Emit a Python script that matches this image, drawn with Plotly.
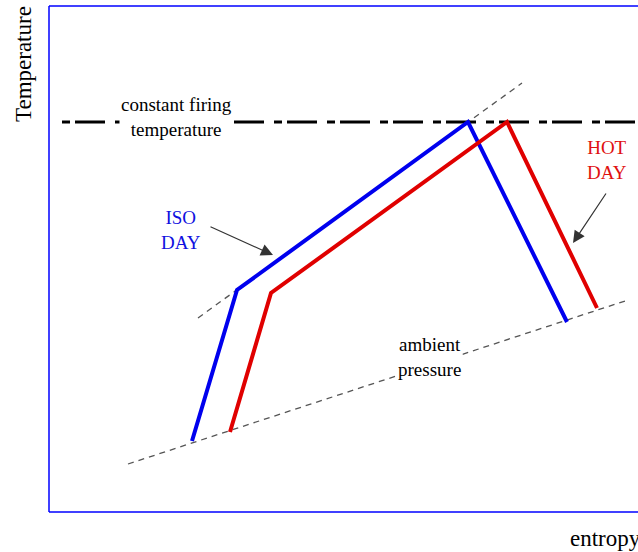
import plotly.graph_objects as go

# Gas-turbine cycle sketch on a temperature-entropy diagram (arbitrary units)
iso_entropy = [143, 188, 419, 518]
iso_temp = [71, 222, 390, 190]

hot_entropy = [181, 222, 458, 548]
hot_temp = [80, 219, 390, 204]

firing_entropy = [13, 600]
firing_temp = [390, 390]

ambient_entropy = [79, 576]
ambient_temp = [48, 211]

compression_entropy = [149, 473]
compression_temp = [194, 429]

S_MAX = 589
T_MAX = 506

SERIF = "Liberation Serif, Times New Roman, serif"

fig = go.Figure()

# guide lines
fig.add_trace(go.Scatter(x=ambient_entropy, y=ambient_temp, mode="lines",
                         line=dict(color="#555555", width=1.3, dash="6px,5px"),
                         hoverinfo="skip"))
fig.add_trace(go.Scatter(x=compression_entropy, y=compression_temp, mode="lines",
                         line=dict(color="#555555", width=1.3, dash="6px,5px"),
                         hoverinfo="skip"))
fig.add_trace(go.Scatter(x=firing_entropy, y=firing_temp, mode="lines",
                         line=dict(color="black", width=3, dash="8px,5px,30px,10px"),
                         hoverinfo="skip"))

# cycles
fig.add_trace(go.Scatter(x=iso_entropy, y=iso_temp, mode="lines",
                         line=dict(color="#0000ee", width=4), name="ISO DAY"))
fig.add_trace(go.Scatter(x=hot_entropy, y=hot_temp, mode="lines",
                         line=dict(color="#e00000", width=4), name="HOT DAY"))

annotations = [
    dict(x=127, y=395, xref="x", yref="y", text="constant firing<br>temperature",
         showarrow=False, bgcolor="white", font=dict(family=SERIF, size=19, color="black")),
    dict(x=380, y=155, xref="x", yref="y", text="ambient<br>pressure",
         showarrow=False, bgcolor="white", font=dict(family=SERIF, size=19, color="black")),
    dict(x=132, y=282, xref="x", yref="y", text="ISO<br>DAY",
         showarrow=False, font=dict(family=SERIF, size=19, color="#1010e0")),
    dict(x=558, y=352, xref="x", yref="y", text="HOT<br>DAY",
         showarrow=False, font=dict(family=SERIF, size=19, color="#e01010")),
    dict(x=224, y=257, ax=160, ay=286, xref="x", yref="y", axref="x", ayref="y",
         text="", showarrow=True, arrowhead=2, arrowsize=2, arrowwidth=1.2,
         arrowcolor="#333333"),
    dict(x=524, y=269, ax=558, ay=320, xref="x", yref="y", axref="x", ayref="y",
         text="", showarrow=True, arrowhead=2, arrowsize=2, arrowwidth=1.2,
         arrowcolor="#333333"),
    dict(x=-26 / S_MAX, y=(512 - 64) / T_MAX, xref="paper", yref="paper",
         xanchor="center", yanchor="middle",
         text="Temperature", textangle=-90, showarrow=False,
         font=dict(family=SERIF, size=23, color="black")),
    dict(x=(568 - 49) / S_MAX, y=(512 - 538) / T_MAX, xref="paper", yref="paper",
         xanchor="left", yanchor="middle", text="entropy", showarrow=False,
         font=dict(family=SERIF, size=23, color="black")),
]

frame = dict(type="line", xref="paper", yref="paper", line=dict(color="#0000ff", width=1.5))
shapes = [
    dict(frame, x0=0, y0=0, x1=0, y1=1),
    dict(frame, x0=0, y0=1, x1=1.01, y1=1),
    dict(frame, x0=0, y0=0, x1=1.01, y1=0),
]

fig.update_layout(
    width=638, height=552,
    margin=dict(l=49, r=0, t=6, b=40),
    paper_bgcolor="white", plot_bgcolor="white",
    showlegend=False,
    xaxis=dict(range=[0, S_MAX], visible=False, fixedrange=True),
    yaxis=dict(range=[0, T_MAX], visible=False, fixedrange=True),
    annotations=annotations,
    shapes=shapes,
)

fig.write_html("out.html")
